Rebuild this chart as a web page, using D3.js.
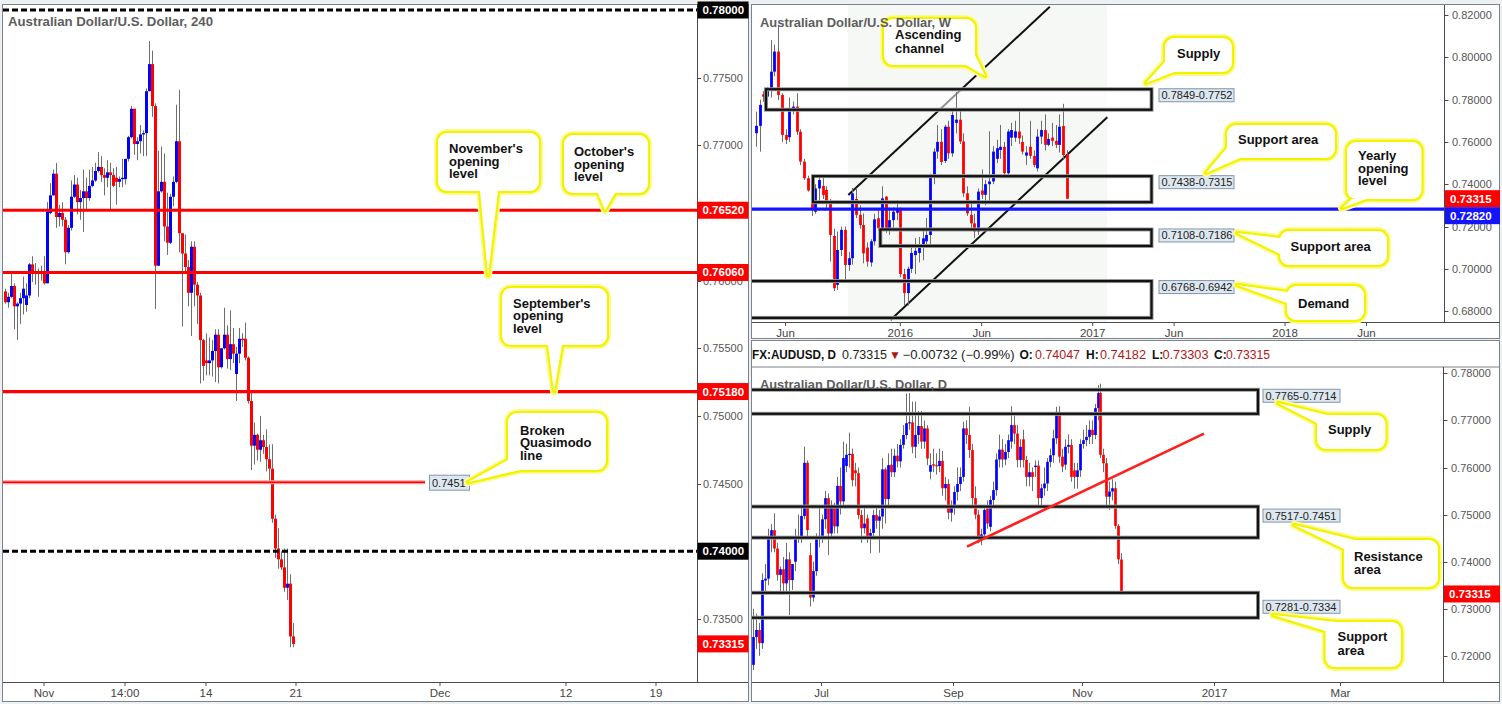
<!DOCTYPE html>
<html><head><meta charset="utf-8">
<script src="https://cdn.jsdelivr.net/npm/d3@7"></script>
<style>
body{margin:0;background:#eef1f4;}
svg{display:block;}
text{font-family:'Liberation Sans',Arial,sans-serif;}
</style></head><body>
<svg id="c" width="1502" height="704"></svg>
<script>
// ---------------- DATA ----------------
// H4 candles [open, high, low, close]
const h4Candles = [
[.7592,.7594,.7583,.7584],[.7584,.7591,.7580,.7588],[.7588,.7607,.7587,.7596],[.7596,.7598,.7564,.7581],
[.7581,.7584,.7556,.7583],[.7583,.7591,.7568,.7587],[.7587,.7603,.7575,.7594],[.7582,.7598,.7577,.7589],
[.7589,.7613,.7587,.7612],[.7612,.7618,.7599,.7607],[.7607,.7613,.7597,.7605],[.7606,.7609,.7588,.7605],
[.7606,.7611,.7600,.7607],[.7607,.7618,.7597,.7598],[.7598,.7658,.7598,.7651],[.7650,.7672,.7649,.7663],
[.7663,.7682,.7663,.7679],[.7679,.7687,.7639,.7647],[.7647,.7656,.7640,.7650],[.7650,.7658,.7640,.7645],
[.7645,.7647,.7612,.7621],[.7621,.7641,.7620,.7639],[.7639,.7674,.7637,.7662],[.7662,.7678,.7661,.7671],
[.7671,.7676,.7649,.7658],[.7658,.7667,.7645,.7661],[.7661,.7682,.7636,.7666],[.7666,.7676,.7653,.7661],
[.7661,.7682,.7659,.7670],[.7670,.7684,.7669,.7674],[.7674,.7687,.7673,.7681],[.7681,.7695,.7680,.7684],
[.7684,.7692,.7673,.7678],[.7678,.7683,.7663,.7676],[.7676,.7689,.7669,.7680],[.7680,.7687,.7652,.7678],
[.7678,.7683,.7669,.7670],[.7676,.7684,.7656,.7673],[.7673,.7677,.7669,.7675],[.7675,.7690,.7669,.7676],
[.7675,.7690,.7671,.7690],[.7690,.7707,.7688,.7706],[.7706,.7729,.7705,.7727],[.7727,.7727,.7693,.7701],
[.7701,.7706,.7689,.7703],[.7703,.7715,.7694,.7708],[.7708,.7711,.7692,.7709],[.7709,.7742,.7692,.7740],
[.7740,.7777,.7740,.7760],[.7760,.7770,.7721,.7729],[.7729,.7731,.7579,.7611],[.7611,.7696,.7611,.7666],
[.7666,.7699,.7665,.7673],[.7673,.7694,.7629,.7640],[.7640,.7665,.7619,.7628],[.7628,.7664,.7627,.7662],
[.7662,.7677,.7655,.7673],[.7673,.7730,.7672,.7703],[.7703,.7741,.7621,.7635],[.7635,.7635,.7566,.7620],
[.7620,.7634,.7605,.7610],[.7610,.7615,.7581,.7591],[.7591,.7629,.7559,.7625],[.7625,.7629,.7581,.7597],
[.7597,.7599,.7568,.7589],[.7589,.7591,.7524,.7556],[.7556,.7557,.7526,.7537],[.7541,.7561,.7530,.7539],
[.7539,.7558,.7530,.7541],[.7541,.7556,.7529,.7548],[.7548,.7564,.7525,.7560],[.7560,.7564,.7524,.7536],
[.7536,.7550,.7535,.7550],[.7550,.7580,.7549,.7560],[.7560,.7567,.7535,.7542],[.7542,.7578,.7534,.7553],
[.7553,.7565,.7539,.7546],[.7531,.7551,.7511,.7546],[.7546,.7565,.7539,.7557],[.7557,.7561,.7551,.7556],
[.7557,.7569,.7541,.7543],[.7543,.7544,.7509,.7511],[.7511,.7517,.7460,.7478],[.7478,.7495,.7464,.7486],
[.7486,.7487,.7467,.7475],[.7475,.7500,.7466,.7482],[.7482,.7486,.7472,.7477],[.7477,.7490,.7459,.7468],
[.7468,.7479,.7450,.7461],[.7461,.7479,.7421,.7424],[.7424,.7427,.7395,.7402],[.7402,.7417,.7387,.7394],
[.7394,.7400,.7386,.7388],[.7388,.7402,.7370,.7373],[.7373,.7402,.7364,.7376],[.7376,.7383,.7329,.7337],
[.7337,.7347,.7329,.73315]
];
const h4TickLabels = ["Nov","14:00","14","21","Dec","12","19"];
const h4TickSlots  = [13, 40, 67, 97, 145, 187, 217];
const h4PriceTicks = [0.775,0.770,0.765,0.760,0.755,0.750,0.745,0.740,0.735];
const h4RedLevels  = [0.7652, 0.7606, 0.7518];
const h4RoundLevels = [0.7800, 0.7400];
const h4QMLevel = 0.7451;
const lastPrice = 0.73315;

// Weekly candles [open, high, low, close], Apr 2015 - Nov 2016
const wCandles = [
[.7641,.7743,.7577,.7676],[.7676,.7800,.7554,.7775],[.7825,.7840,.7790,.7814],[.7814,.7860,.7800,.7845],
[.7845,.8082,.7810,.7932],[.7932,.8060,.7910,.8027],[.8027,.8153,.7798,.7822],[.7822,.7830,.7600,.7633],
[.7633,.7660,.7590,.7610],[.7622,.7810,.7600,.7745],[.7745,.7790,.7730,.7767],[.7767,.7830,.7633,.7648],
[.7648,.7660,.7490,.7507],[.7507,.7520,.7420,.7428],[.7428,.7440,.7365,.7370],[.7370,.7390,.7250,.7278],
[.7270,.7400,.7260,.7380],[.7380,.7440,.7318,.7420],[.7392,.7430,.7330,.7349],[.7373,.7390,.7280,.7310],
[.7310,.7330,.7034,.7160],[.7155,.7190,.6895,.6908],[.6924,.7176,.6900,.7089],[.7089,.7200,.7060,.7184],
[.7184,.7200,.6947,.7018],[.7018,.7080,.6990,.7050],[.7050,.7382,.7020,.7357],[.7330,.7382,.7240,.7255],
[.7255,.7300,.7190,.7207],[.7207,.7262,.7026,.7073],[.7100,.7125,.7010,.7034],[.7030,.7140,.7010,.7130],
[.7130,.7260,.7110,.7234],[.7239,.7280,.7180,.7192],[.7192,.7390,.7180,.7333],[.7341,.7345,.7170,.7184],
[.7184,.7290,.7160,.7230],[.7230,.7290,.7180,.7270],[.7265,.7325,.7230,.7285],[.7282,.7290,.6960,.6975],
[.6975,.7000,.6827,.6885],[.6885,.7010,.6826,.7000],[.7000,.7110,.6980,.7075],[.7065,.7145,.6975,.7085],
[.7075,.7150,.7030,.7100],[.7105,.7190,.7040,.7144],[.7130,.7240,.7100,.7160],[.7160,.7450,.7110,.7436],
[.7436,.7570,.7400,.7554],[.7554,.7680,.7520,.7600],[.7600,.7660,.7490,.7505],[.7510,.7680,.7500,.7672],
[.7672,.7700,.7520,.7546],[.7546,.7750,.7530,.7727],[.7690,.7835,.7640,.7705],[.7705,.7760,.7590,.7602],
[.7602,.7640,.7340,.7357],[.7357,.7390,.7250,.7262],[.7255,.7310,.7190,.7215],[.7215,.7260,.7145,.7176],
[.7176,.7380,.7160,.7365],[.7370,.7470,.7330,.7350],[.7350,.7420,.7300,.7400],[.7400,.7650,.7320,.7413],
[.7413,.7580,.7400,.7554],[.7520,.7610,.7500,.7570],[.7562,.7680,.7520,.7577],[.7577,.7600,.7440,.7452],
[.7452,.7660,.7440,.7649],[.7620,.7690,.7580,.7656],[.7620,.7700,.7600,.7650],[.7649,.7760,.7590,.7617],
[.7600,.7630,.7540,.7554],[.7535,.7580,.7490,.7550],[.7577,.7700,.7520,.7534],[.7534,.7560,.7480,.7491],
[.7475,.7660,.7460,.7625],[.7625,.7700,.7590,.7656],[.7656,.7730,.7560,.7586],[.7586,.7640,.7580,.7614],
[.7620,.7690,.7580,.7605],[.7605,.7680,.7570,.7586],[.7586,.7730,.7550,.7672],[.7675,.7780,.7520,.7538],
[.7541,.7560,.7330,.73315]
];
const wTickLabels = ["Jun","2016","Jun","2017","Jun","2018","Jun"];
const wTickSlots  = [8, 39, 61, 91, 113, 143, 165];
const wPriceTicks = [0.82,0.80,0.78,0.76,0.74,0.72,0.70,0.68];
const yearlyOpen = 0.7282;
const wZones = [[0.7849,0.7752,"0.7849-0.7752",2.7],[0.7438,0.7315,"0.7438-0.7315",15.4],
                [0.7186,0.7108,"0.7108-0.7186",33.6],[0.6942,0.6768,"0.6768-0.6942",-3]];

// Daily candles [open, high, low, close], May 31 - Nov 18 2016
const dCandles = [
[.7181,.7300,.7170,.7240],[.7240,.7290,.7215,.7255],[.7255,.7270,.7200,.7227],[.7227,.7375,.7215,.7361],
[.7360,.7395,.7330,.7364],[.7364,.7470,.7350,.7452],[.7452,.7480,.7420,.7467],[.7467,.7503,.7420,.7428],
[.7428,.7440,.7360,.7372],[.7372,.7390,.7330,.7384],[.7384,.7410,.7330,.7354],[.7354,.7440,.7335,.7405],
[.7405,.7420,.7287,.7361],[.7361,.7395,.7340,.7395],[.7400,.7470,.7380,.7451],[.7451,.7500,.7440,.7453],
[.7453,.7520,.7440,.7497],[.7497,.7644,.7490,.7610],[.7610,.7615,.7450,.7467],[.7414,.7440,.7305,.7324],
[.7324,.7400,.7315,.7380],[.7380,.7460,.7370,.7448],[.7448,.7520,.7430,.7455],[.7455,.7500,.7440,.7490],
[.7490,.7550,.7470,.7535],[.7535,.7545,.7414,.7460],[.7460,.7530,.7450,.7518],[.7518,.7525,.7460,.7475],
[.7475,.7580,.7460,.7561],[.7561,.7600,.7500,.7528],[.7528,.7655,.7520,.7620],[.7603,.7650,.7590,.7627],
[.7627,.7674,.7600,.7629],[.7629,.7640,.7560,.7573],[.7594,.7610,.7560,.7588],[.7588,.7600,.7490,.7499],
[.7499,.7510,.7440,.7471],[.7471,.7520,.7460,.7481],[.7492,.7500,.7440,.7452],[.7452,.7470,.7418,.7461],
[.7461,.7510,.7450,.7499],[.7499,.7520,.7470,.7487],[.7487,.7510,.7419,.7496],[.7496,.7620,.7470,.7596],
[.7596,.7600,.7481,.7533],[.7533,.7630,.7520,.7605],[.7606,.7640,.7580,.7590],[.7590,.7640,.7580,.7625],
[.7625,.7650,.7600,.7613],[.7613,.7660,.7600,.7648],[.7648,.7690,.7640,.7669],[.7669,.7757,.7660,.7694],
[.7694,.7758,.7680,.7696],[.7696,.7740,.7630,.7644],[.7644,.7740,.7620,.7669],[.7669,.7720,.7650,.7688],
[.7688,.7720,.7640,.7655],[.7655,.7700,.7640,.7683],[.7683,.7690,.7605,.7619],[.7591,.7630,.7575,.7605],
[.7607,.7640,.7590,.7604],[.7605,.7630,.7585,.7603],[.7603,.7640,.7590,.7614],[.7614,.7635,.7540,.7556],
[.7556,.7580,.7530,.7565],[.7565,.7575,.7490,.7504],[.7504,.7530,.7485,.7515],[.7515,.7560,.7500,.7548],
[.7548,.7600,.7530,.7565],[.7565,.7600,.7550,.7580],[.7580,.7697,.7570,.7683],[.7683,.7700,.7650,.7669],
[.7669,.7729,.7620,.7637],[.7637,.7650,.7520,.7535],[.7535,.7560,.7490,.7500],[.7500,.7510,.7439,.7449],
[.7449,.7470,.7435,.7458],[.7458,.7520,.7450,.7510],[.7513,.7530,.7470,.7481],[.7474,.7540,.7465,.7531],
[.7531,.7570,.7520,.7552],[.7552,.7630,.7540,.7617],[.7617,.7670,.7600,.7638],[.7638,.7660,.7600,.7617],
[.7617,.7650,.7605,.7633],[.7633,.7670,.7620,.7658],[.7655,.7730,.7640,.7690],[.7690,.7710,.7650,.7672],
[.7672,.7690,.7600,.7616],[.7616,.7660,.7600,.7644],[.7660,.7680,.7600,.7616],[.7616,.7625,.7560,.7580],
[.7580,.7610,.7560,.7590],[.7590,.7600,.7550,.7580],[.7601,.7615,.7580,.7604],[.7604,.7615,.7520,.7535],
[.7535,.7565,.7520,.7556],[.7556,.7600,.7540,.7566],[.7566,.7620,.7550,.7612],[.7612,.7640,.7600,.7626],
[.7626,.7680,.7610,.7662],[.7662,.7729,.7650,.7718],[.7718,.7730,.7610,.7623],[.7623,.7640,.7590,.7602],
[.7606,.7660,.7595,.7644],[.7644,.7670,.7630,.7648],[.7648,.7660,.7570,.7580],[.7594,.7610,.7555,.7580],
[.7580,.7610,.7555,.7594],[.7594,.7660,.7580,.7650],[.7650,.7680,.7640,.7658],[.7658,.7690,.7645,.7665],
[.7665,.7700,.7650,.7680],[.7680,.7700,.7650,.7669],[.7669,.7735,.7660,.7726],[.7726,.7775,.7700,.7758],
[.7758,.7778,.7620,.7627],[.7627,.7640,.7590,.7609],[.7609,.7620,.7520,.7538],[.7538,.7570,.7510,.7549],
[.7549,.7575,.7530,.7556],[.7556,.7570,.7470,.7476],[.7476,.7480,.7395,.7405],[.74047,.74182,.73303,.73315]
];
const dFirstSlot = -1;
const dTickLabels = ["Jul","Sep","Nov","2017","Mar"];
const dTickSlots  = [22, 66, 109, 153, 195];
const dPriceTicks = [0.78,0.77,0.76,0.75,0.74,0.73,0.72];
const dZones = [[0.7765,0.7714,"0.7765-0.7714"],[0.7517,0.7451,"0.7517-0.7451"],[0.7334,0.7281,"0.7281-0.7334"]];
const dTrend = [[70.5, 0.7432],[149.5, 0.7672]];
const headerVals = {sym:"FX:AUDUSD, D", last:"0.73315", chg:"\u22120.00732 (\u22120.99%)", o:"0.74047", h:"0.74182", l:"0.73303", c:"0.73315"};

// ---------------- DRAW ----------------
const svg = d3.select('#c');
svg.append('rect').attr('width',1502).attr('height',704).attr('fill','#eef1f4');
const fmt5 = d3.format('.5f');
const BLUE='#0000ff', RED='#ff0000', WICK='#6e6e6e', AX='#4a4a4a';

function panel(x,y,w,h){
  svg.append('rect').attr('x',x).attr('y',y).attr('width',w).attr('height',h)
    .attr('fill','#fff').attr('stroke','#7d8288').attr('stroke-width',1);
}
function clip(id,x,y,w,h){
  svg.append('clipPath').attr('id',id).append('rect').attr('x',x).attr('y',y).attr('width',w).attr('height',h);
}
function drawCandles(g,data,xs,ys,slot0,bw){
  g.selectAll('line.wk').data(data).join('line').attr('class','wk')
    .attr('x1',(d,i)=>Math.round(xs(i+slot0))+0.5).attr('x2',(d,i)=>Math.round(xs(i+slot0))+0.5)
    .attr('y1',d=>ys(d[1])).attr('y2',d=>ys(d[2])).attr('stroke',WICK).attr('stroke-width',1);
  g.selectAll('rect.bd').data(data).join('rect').attr('class','bd')
    .attr('x',(d,i)=>Math.round(xs(i+slot0))+0.5-bw/2)
    .attr('width',bw)
    .attr('y',d=>Math.min(ys(d[0]),ys(d[3])))
    .attr('height',d=>Math.max(1.2,Math.abs(ys(d[0])-ys(d[3]))))
    .attr('fill',d=>d[3]>=d[0]?BLUE:RED);
}
function priceTag(g,x,y,w,txt,bg,fg){
  g.append('rect').attr('x',x).attr('y',y-8.5).attr('width',w).attr('height',17).attr('fill',bg);
  g.append('text').attr('x',x+5).attr('y',y+4).attr('fill',fg).attr('font-size',11.5)
    .attr('font-weight','bold').text(txt);
}
function zoneLabel(g,x,yc,w,txt){
  g.append('rect').attr('x',x+0.5).attr('y',yc-6.5).attr('width',w).attr('height',13)
    .attr('fill','#dde7ef').attr('stroke','#8297aa').attr('stroke-width',1);
  g.append('text').attr('x',x+3).attr('y',yc+4).attr('font-size',11).attr('fill','#222').text(txt);
}
function callout(g,c){
  const [bx,by,bw,bh]=c.box;
  const tri = `M${c.base[0][0]},${c.base[0][1]}L${c.tip[0]},${c.tip[1]}L${c.base[1][0]},${c.base[1][1]}Z`;
  [['#fbfb9e',8],['#f3f300',4.5]].forEach(([col,sw])=>{
    g.append('rect').attr('x',bx).attr('y',by).attr('width',bw).attr('height',bh).attr('rx',9)
      .attr('fill','none').attr('stroke',col).attr('stroke-width',sw).attr('stroke-linejoin','round');
    g.append('path').attr('d',tri).attr('fill','none').attr('stroke',col).attr('stroke-width',sw).attr('stroke-linejoin','round');
  });
  g.append('rect').attr('x',bx).attr('y',by).attr('width',bw).attr('height',bh).attr('rx',9).attr('fill','#fff');
  g.append('path').attr('d',tri).attr('fill','#fff');
  c.lines.forEach((t,i)=>g.append('text').attr('x',c.tx).attr('y',c.ty[i]).attr('font-size',13)
    .attr('font-weight','bold').attr('fill','#111').text(t));
}

// ======== LEFT: H4 ========
panel(2.5,4.5,746,697);
const xH = d3.scaleLinear().domain([-0.667,230.667]).range([3,697]);
const yH = d3.scaleLinear().domain([0.78,0.74]).range([10,551.2]);
clip('cH',3,5,694,677);
const gH = svg.append('g');
const gHp = gH.append('g').attr('clip-path','url(#cH)');
drawCandles(gHp,h4Candles,xH,yH,0,3);
h4RedLevels.forEach(v=>gHp.append('line').attr('x1',3).attr('x2',697).attr('y1',yH(v)).attr('y2',yH(v))
  .attr('stroke',RED).attr('stroke-width',3.2));
gHp.append('line').attr('x1',3).attr('x2',425).attr('y1',yH(h4QMLevel)).attr('y2',yH(h4QMLevel)).attr('stroke','#ff9c9c').attr('stroke-width',4);
gHp.append('line').attr('x1',3).attr('x2',425).attr('y1',yH(h4QMLevel)).attr('y2',yH(h4QMLevel)).attr('stroke',RED).attr('stroke-width',1.6);
h4RoundLevels.forEach(v=>gHp.append('line').attr('x1',3).attr('x2',697).attr('y1',yH(v)).attr('y2',yH(v))
  .attr('stroke','#000').attr('stroke-width',3).attr('stroke-dasharray','6,3'));
// axes
gH.append('line').attr('x1',697.5).attr('x2',697.5).attr('y1',5).attr('y2',682).attr('stroke',AX);
gH.append('line').attr('x1',3).attr('x2',748).attr('y1',682.5).attr('y2',682.5).attr('stroke',AX);
h4PriceTicks.forEach(v=>{
  gH.append('line').attr('x1',697).attr('x2',701).attr('y1',Math.round(yH(v))+0.5).attr('y2',Math.round(yH(v))+0.5).attr('stroke',AX);
  gH.append('text').attr('x',703).attr('y',yH(v)+4).attr('font-size',11).attr('fill','#555').text(fmt5(v));
});
h4TickLabels.forEach((t,i)=>{
  const x=xH(h4TickSlots[i]);
  gH.append('line').attr('x1',x).attr('x2',x).attr('y1',682).attr('y2',686).attr('stroke',AX);
  gH.append('text').attr('x',x).attr('y',697).attr('text-anchor','middle').attr('font-size',11.5).attr('fill','#444').text(t);
});
h4RoundLevels.forEach(v=>priceTag(gH,697.5,yH(v),51,fmt5(v),'#000','#fff'));
h4RedLevels.forEach(v=>priceTag(gH,697.5,yH(v),51,fmt5(v),RED,'#fff'));
priceTag(gH,697.5,yH(lastPrice),51,fmt5(lastPrice),RED,'#fff');
gH.append('rect').attr('x',429.5).attr('y',yH(h4QMLevel)-7).attr('width',40).attr('height',15)
  .attr('fill','#dde7ef').attr('stroke','#8297aa');
gH.append('text').attr('x',432).attr('y',yH(h4QMLevel)+4.5).attr('font-size',11).attr('fill','#222').text(String(h4QMLevel));
gH.append('text').attr('x',8).attr('y',26).attr('font-size',13.5).attr('font-weight','bold').attr('fill','#5d5d5d')
  .attr('textLength',205).attr('lengthAdjust','spacingAndGlyphs').text('Australian Dollar/U.S. Dollar, 240');
callout(gH,{box:[438,133,101,58],base:[[480,191],[498,191]],tip:[488,yH(0.7606)+3],lines:["November's","opening","level"],tx:449,ty:[153,165.5,178]});
callout(gH,{box:[564,135,84,58],base:[[598,193],[615,193]],tip:[605,yH(0.7652)],lines:["October's","opening","level"],tx:574,ty:[156,168.5,181]});
callout(gH,{box:[502,288,105,57],base:[[548,345],[562,345]],tip:[554,yH(0.7518)],lines:["September's","opening","level"],tx:513,ty:[307.5,320,332.5]});
callout(gH,{box:[508,413,98,57],base:[[508,460],[520,470]],tip:[468,yH(h4QMLevel)],lines:["Broken","Quasimodo","line"],tx:520,ty:[434.5,447,459.5]});

// ======== TOP RIGHT: WEEKLY ========
panel(751.5,4.5,748,334);
const xW = d3.scaleLinear().domain([-1.081,186.08]).range([752,1444.5]);
const yW = d3.scaleLinear().domain([0.82,0.68]).range([15,311.1]);
clip('cW',752,5,692.5,317);
const gW = svg.append('g');
const gWp = gW.append('g').attr('clip-path','url(#cW)');
gWp.append('rect').attr('x',848).attr('y',5).attr('width',259).attr('height',317).attr('fill','#f6f8f6');
// ascending channel
const chUp = [[848.3,195],[1049.8,6.7]], chLo=[[890.5,320],[1107.3,117.3]];
[chUp,chLo].forEach(p=>gWp.append('line').attr('x1',p[0][0]).attr('y1',p[0][1]).attr('x2',p[1][0]).attr('y2',p[1][1])
  .attr('stroke','#111').attr('stroke-width',2));
const zx1 = xW(106.9);
gWp.append('rect').attr('x',xW(wZones[0][3])).attr('y',yW(wZones[0][0])).attr('width',zx1-xW(wZones[0][3]))
  .attr('height',yW(wZones[0][1])-yW(wZones[0][0])).attr('fill','#fff').attr('fill-opacity',0.55);
drawCandles(gWp,wCandles,xW,yW,0,2.8);
wZones.forEach(z=>{
  gWp.append('rect').attr('x',xW(z[3])).attr('y',yW(z[0])).attr('width',zx1-xW(z[3])).attr('height',yW(z[1])-yW(z[0]))
    .attr('fill','none').attr('stroke','#9a9a9a').attr('stroke-width',4);
  gWp.append('rect').attr('x',xW(z[3])).attr('y',yW(z[0])).attr('width',zx1-xW(z[3])).attr('height',yW(z[1])-yW(z[0]))
    .attr('fill','none').attr('stroke','#111').attr('stroke-width',2.2);
});
gWp.append('line').attr('x1',752).attr('x2',1444.5).attr('y1',yW(yearlyOpen)).attr('y2',yW(yearlyOpen)).attr('stroke','#1414ff').attr('stroke-width',3.2);
gW.append('line').attr('x1',1444.5).attr('x2',1444.5).attr('y1',5).attr('y2',322).attr('stroke',AX);
gW.append('line').attr('x1',752).attr('x2',1500).attr('y1',322.5).attr('y2',322.5).attr('stroke',AX);
wPriceTicks.forEach(v=>{
  gW.append('line').attr('x1',1444.5).attr('x2',1448.5).attr('y1',Math.round(yW(v))+0.5).attr('y2',Math.round(yW(v))+0.5).attr('stroke',AX);
  gW.append('text').attr('x',1452).attr('y',yW(v)+4).attr('font-size',11).attr('fill','#555').text(fmt5(v));
});
wTickLabels.forEach((t,i)=>{
  const x=xW(wTickSlots[i]);
  gW.append('line').attr('x1',x).attr('x2',x).attr('y1',322).attr('y2',326).attr('stroke',AX);
  gW.append('text').attr('x',x).attr('y',336.5).attr('text-anchor','middle').attr('font-size',11.5).attr('fill','#444').text(t);
});
priceTag(gW,1445,yW(lastPrice),55,fmt5(lastPrice),RED,'#fff');
priceTag(gW,1445,yW(yearlyOpen)+6.5,55,fmt5(yearlyOpen),'#1414ff','#fff');
wZones.forEach(z=>zoneLabel(gW,1158.5,yW(z[0])+6,75,z[2]));
callout(gW,{box:[884,19,91,46],base:[[966,65],[975,55]],tip:[985,76],lines:["Ascending","channel"],tx:895,ty:[38.5,52.5]});
gW.append('text').attr('x',760).attr('y',27).attr('font-size',13.5).attr('font-weight','bold').attr('fill','#5d5d5d')
  .attr('textLength',191).attr('lengthAdjust','spacingAndGlyphs').text('Australian Dollar/U.S. Dollar, W');
callout(gW,{box:[1165,38,67,34],base:[[1165,62],[1174,72]],tip:[1146,83],lines:["Supply"],tx:1177,ty:[57.5]});
callout(gW,{box:[1227,125,108,33],base:[[1227,148],[1240,158]],tip:[1206,173],lines:["Support area"],tx:1238,ty:[144]});
callout(gW,{box:[1347,142,74.5,57],base:[[1352,199],[1366,199]],tip:[1342,208],lines:["Yearly","opening","level"],tx:1358,ty:[160,172.5,185]});
callout(gW,{box:[1280,231,107,34],base:[[1280,238],[1280,254]],tip:[1237,233],lines:["Support area"],tx:1290.5,ty:[250.5]});
callout(gW,{box:[1287,286,77,34],base:[[1287,292],[1287,303]],tip:[1237,285],lines:["Demand"],tx:1298,ty:[308]});

// ======== BOTTOM RIGHT: DAILY ========
panel(751.5,340.5,748,361);
const xD = d3.scaleLinear().domain([-1.1667,229.1667]).range([752,1443]);
const yD = d3.scaleLinear().domain([0.78,0.72]).range([373.3,655.9]);
clip('cD',752,367,691,315);
const gD = svg.append('g');
gD.append('line').attr('x1',752).attr('x2',1500).attr('y1',367).attr('y2',367).attr('stroke','#7d8288');
const gDp = gD.append('g').attr('clip-path','url(#cD)');
drawCandles(gDp,dCandles,xD,yD,dFirstSlot,2.7);
const dzx1 = xD(167.5);
dZones.forEach(z=>{
  gDp.append('rect').attr('x',xD(-3)).attr('y',yD(z[0])).attr('width',dzx1-xD(-3)).attr('height',yD(z[1])-yD(z[0]))
    .attr('fill','none').attr('stroke','#9a9a9a').attr('stroke-width',4);
  gDp.append('rect').attr('x',xD(-3)).attr('y',yD(z[0])).attr('width',dzx1-xD(-3)).attr('height',yD(z[1])-yD(z[0]))
    .attr('fill','none').attr('stroke','#111').attr('stroke-width',2.2);
});
gDp.append('line').attr('x1',xD(dTrend[0][0])).attr('y1',yD(dTrend[0][1])).attr('x2',xD(dTrend[1][0])).attr('y2',yD(dTrend[1][1]))
  .attr('stroke','#ff1f1f').attr('stroke-width',2.6);
gD.append('line').attr('x1',1443.5).attr('x2',1443.5).attr('y1',367).attr('y2',682).attr('stroke',AX);
gD.append('line').attr('x1',752).attr('x2',1500).attr('y1',682.5).attr('y2',682.5).attr('stroke',AX);
dPriceTicks.forEach(v=>{
  gD.append('line').attr('x1',1443.5).attr('x2',1447.5).attr('y1',Math.round(yD(v))+0.5).attr('y2',Math.round(yD(v))+0.5).attr('stroke',AX);
  gD.append('text').attr('x',1451).attr('y',yD(v)+4).attr('font-size',11).attr('fill','#555').text(fmt5(v));
});
dTickLabels.forEach((t,i)=>{
  const x=xD(dTickSlots[i]);
  gD.append('line').attr('x1',x).attr('x2',x).attr('y1',682).attr('y2',686).attr('stroke',AX);
  gD.append('text').attr('x',x).attr('y',697).attr('text-anchor','middle').attr('font-size',11.5).attr('fill','#444').text(t);
});
priceTag(gD,1444,yD(lastPrice),56,fmt5(lastPrice),RED,'#fff');
const dLabOff=[6,9,14];
dZones.forEach((z,i)=>zoneLabel(gD,1262.5,yD(z[0])+dLabOff[i],77,z[2]));
gD.append('text').attr('x',760).attr('y',389).attr('font-size',13.5).attr('font-weight','bold').attr('fill','#5d5d5d')
  .attr('textLength',187).attr('lengthAdjust','spacingAndGlyphs').text('Australian Dollar/U.S. Dollar, D');
// header
const hd = gD.append('g').attr('font-size',12);
const DR='#b01818';
[[752,headerVals.sym,'#111','bold',84],[842,headerVals.last,'#222','normal',45],[889,'\u25BC',DR,'normal',0],
 [902.5,headerVals.chg,'#222','normal',112],[1019.5,'O:','#111','bold',0],[1035,headerVals.o,DR,'normal',45],
 [1086,'H:','#111','bold',0],[1100,headerVals.h,DR,'normal',46],[1152,'L:','#111','bold',0],[1162.5,headerVals.l,DR,'normal',46],
 [1214,'C:','#111','bold',0],[1226,headerVals.c,DR,'normal',44]].forEach(p=>{
  const t=hd.append('text').attr('x',p[0]).attr('y',358.5).attr('fill',p[2]).attr('font-weight',p[3]).text(p[1]);
  if(p[4]) t.attr('textLength',p[4]).attr('lengthAdjust','spacingAndGlyphs');
});
callout(gD,{box:[1317,415,68.5,34],base:[[1317,423],[1327,415]],tip:[1278,403],lines:["Supply"],tx:1328,ty:[434]});
callout(gD,{box:[1344,540,94,47],base:[[1344,549],[1355,540]],tip:[1294,525],lines:["Resistance","area"],tx:1354,ty:[561,574]});
callout(gD,{box:[1325.5,622,75.5,45],base:[[1325.5,631],[1336,622]],tip:[1273,615],lines:["Support","area"],tx:1337.5,ty:[640.5,654.5]});
</script>
</body></html>
